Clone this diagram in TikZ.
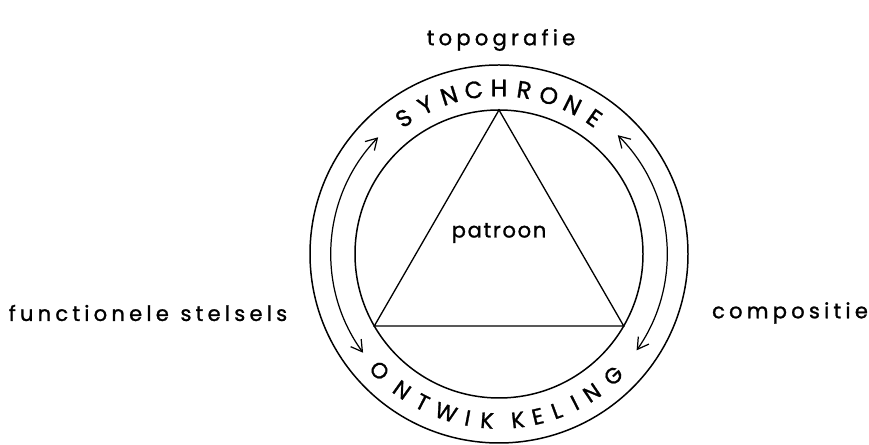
\documentclass[tikz,border=0pt]{standalone}
\usepackage{fontspec}
\setmainfont{Poppins}[FakeBold=1.2]
\newfontfamily\labfont[LetterSpace=20, FakeBold=1.2]{Poppins}
\newfontfamily\patfont[LetterSpace=8, FakeBold=1.2]{Poppins}
\usetikzlibrary{arrows.meta}
\tikzset{
	ring/.style={line width=0.85pt, draw=black},
	tri/.style={line width=0.75pt, draw=black},
	turn/.style={line width=0.7pt, draw=black,
		{Straight Barb[length=2.2mm,width=2.6mm]}-{Straight Barb[length=2.2mm,width=2.6mm]}},
	lab/.style={font=\labfont\fontsize{12}{14}\selectfont, inner sep=0pt},
	toptxt/.style={font=\fontsize{13.5}{15}\selectfont, inner sep=0pt},
	bottxt/.style={font=\fontsize{12.6}{15}\selectfont, inner sep=0pt}
}

\begin{document}
\begin{tikzpicture}[x=0.02cm, y=0.02cm]
	\useasboundingbox (0,0) rectangle (869,445);
	\coordinate (c) at (499,191);
	% rings
	\draw[ring] (c) circle[radius=189];
	\draw[ring] (c) circle[radius=144];
	% triangle
	\path (c) ++(90:144) coordinate (top);
	\path (c) ++(210:144) coordinate (left);
	\path (c) ++(330:144) coordinate (right);
	\draw[tri] (top) -- (left) -- (right) -- cycle;
	% arrows between the rings
	\draw[turn] (c) ++(136:168) arc[start angle=136, end angle=216, radius=168];
	\draw[turn] (c) ++(-35:168) arc[start angle=-35, end angle=45, radius=168];
	% ring texts
	\foreach \l [count=\i] in {S,Y,N,C,H,R,O,N,E} {
		\pgfmathsetmacro\ang{125-(\i-1)*8.75}
		\node[toptxt, rotate=\ang-90] (syn\i) at ([shift={(\ang:166)}]c) {\l};
	}
	\foreach \ang/\l [count=\i] in {224.3/O,234.5/N,242.7/T,251.5/W,259.2/I,265.9/K,
		276.5/K,283.4/E,290.2/L,297.0/I,303.8/N,313.2/G} {
		\node[bottxt, rotate=\ang+90] (ont\i) at ([shift={(\ang:167)}]c) {\l};
	}
	% labels
	\node[lab] (topo) at (501,405) {topografie};
	\node[lab] (func) at (148,132) {functionele\hspace{0.55em}stelsels};
	\node[lab] (comp) at (790,132) {compositie};
	\node[lab, font=\patfont\fontsize{12}{14}\selectfont] (patr) at (499,212) {patroon};
\end{tikzpicture}
\end{document}
